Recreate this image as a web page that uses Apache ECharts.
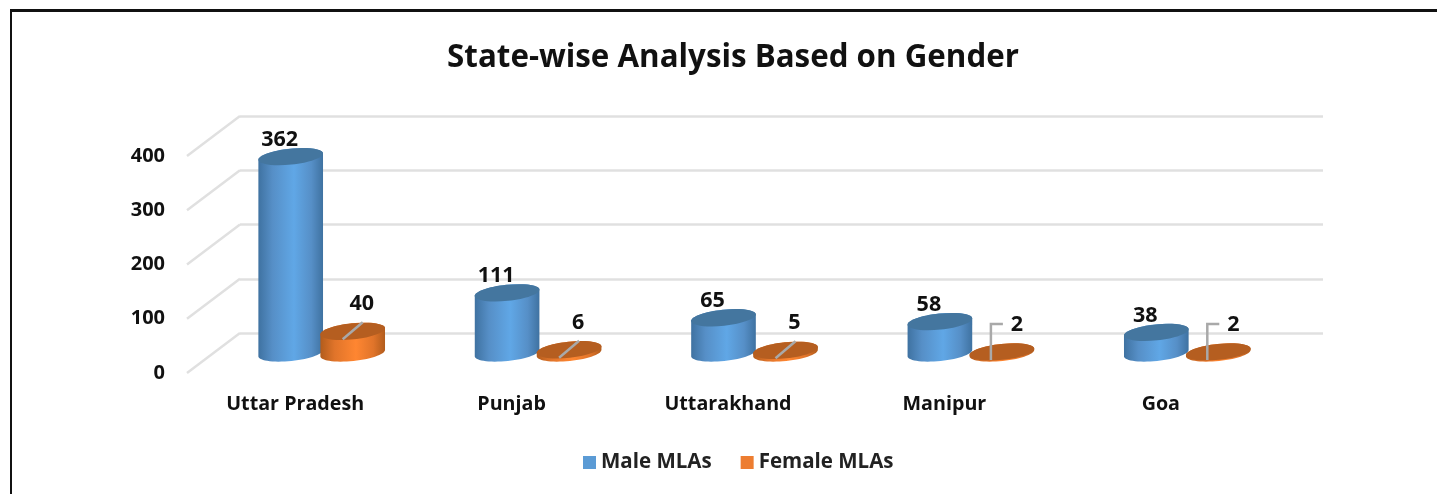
<!DOCTYPE html>
<html>
<head>
<meta charset="utf-8">
<title>State-wise Analysis Based on Gender</title>
<script src="https://cdn.jsdelivr.net/npm/echarts@6/dist/echarts.min.js"></script>
<style>
  html, body { margin: 0; padding: 0; background: #fff; overflow: hidden; }
  #chart { width: 1437px; height: 494px; }
  #frame { position: absolute; left: 10px; top: 9px; width: 1427px; height: 485px; box-sizing: border-box;
           border-top: 3px solid #111; border-left: 2px solid #111; pointer-events: none; }
</style>
</head>
<body>
<div id="chart"></div>
<div id="frame"></div>
<script>
var states = ['Uttar Pradesh', 'Punjab', 'Uttarakhand', 'Manipur', 'Goa'];
var maleMLAs = [362, 111, 65, 58, 38];
var femaleMLAs = [40, 6, 5, 2, 2];
var axisTicks = [0, 100, 200, 300, 400];

var font = '"Open Sans", "Noto Sans", sans-serif';
var depthX = 53, depthY = -40;   // front plane -> back wall
var barRx = 32.5, barRy = 8, tilt = -6 * Math.PI / 180;

function ellipsePoint(cx, cy, t) {
  var x = barRx * Math.cos(t), y = barRy * Math.sin(t);
  return [cx + x * Math.cos(tilt) - y * Math.sin(tilt), cy + x * Math.sin(tilt) + y * Math.cos(tilt)];
}

function cylinder(params, api, shift, colors, isFemale) {
  var i = api.value(0), val = api.value(1);
  var base = api.coord([i, 0]), top = api.coord([i, val]);
  var cx = base[0] + depthX / 2 + shift;
  var by = base[1] + depthY / 2, ty = top[1] + depthY / 2;

  // side of the cylinder: lower half of the base, upper side closed by the top ellipse
  var pts = [], t;
  for (t = 0; t <= 180; t += 6) pts.push(ellipsePoint(cx, by, t * Math.PI / 180));
  for (t = 180; t <= 360; t += 6) pts.push(ellipsePoint(cx, ty, t * Math.PI / 180));

  var children = [{
    type: 'polygon',
    shape: { points: pts },
    style: {
      fill: new echarts.graphic.LinearGradient(0, 0, 1, 0, [
        { offset: 0, color: colors[0] },
        { offset: 0.22, color: colors[3] },
        { offset: 0.55, color: colors[1] },
        { offset: 0.82, color: colors[3] },
        { offset: 1, color: colors[0] }
      ])
    }
  }, {
    type: 'ellipse',
    shape: { cx: 0, cy: 0, rx: barRx, ry: barRy },
    x: cx, y: ty, rotation: -tilt,
    style: { fill: colors[2] }
  }];

  if (!isFemale) {
    children.push(labelText(cx - 11, ty - 17, val));
    return { type: 'group', children: children };
  }

  // female labels sit off the bar with a grey leader line
  var line;
  if (val > 2) {
    line = [[cx - 10, ty + 8], [cx + 10, ty - 9]];
    children.push(labelText(cx + 9, ty - 27, val));
  } else {
    line = [[cx - 11, ty + 8], [cx - 11, ty - 28], [cx + 1, ty - 28]];
    children.push(labelText(cx + 15, ty - 27, val));
  }
  children.push({
    type: 'polyline',
    shape: { points: line },
    style: { fill: null, stroke: '#a9a9a9', lineWidth: 2.5 }
  });
  return { type: 'group', children: children };
}

function labelText(x, y, val) {
  return {
    type: 'text', x: x, y: y,
    style: { text: String(val), fill: '#111', font: 'bold 21.5px ' + font, align: 'center', verticalAlign: 'middle' }
  };
}

function wrap(values) {
  return values.map(function (v, i) { return [i, v]; });
}

var chart = echarts.init(document.getElementById('chart'));

chart.setOption({
  animation: false,
  title: {
    text: 'State-wise Analysis Based on Gender',
    left: 728, top: 38, textAlign: 'center',
    textStyle: { fontFamily: font, fontSize: 31.3, fontWeight: 'bold', color: '#111' }
  },
  legend: {
    data: ['Male MLAs', 'Female MLAs'],
    left: 578, top: 447,
    itemWidth: 13, itemHeight: 13, itemGap: 29, icon: 'rect',
    textStyle: { fontFamily: font, fontSize: 20.5, fontWeight: 'bold', color: '#222' }
  },
  grid: [
    { left: 187, top: 156, width: 1082, height: 217 },
    { left: 240, top: 116, width: 1083, height: 217 }
  ],
  xAxis: [{
    type: 'category', gridIndex: 0, data: states,
    axisLine: { show: false }, axisTick: { show: false },
    axisLabel: { margin: 21, interval: 0, fontFamily: font, fontSize: 19.7, fontWeight: 'bold', color: '#111' }
  }, {
    type: 'category', gridIndex: 1, data: states, show: false
  }],
  yAxis: [{
    type: 'value', gridIndex: 0, min: 0, max: 400, interval: 100,
    axisLine: { show: false }, axisTick: { show: false }, splitLine: { show: false },
    axisLabel: { margin: 22, padding: [2, 0, 0, 0], fontFamily: font, fontSize: 20, fontWeight: 'bold', color: '#111' }
  }, {
    type: 'value', gridIndex: 1, min: 0, max: 400, interval: 100,
    axisLine: { show: false }, axisTick: { show: false }, axisLabel: { show: false },
    splitLine: { lineStyle: { color: '#e0e0e0', width: 2.5 } }
  }],
  series: [{
    // side-wall diagonals from the front plane to the back wall
    name: 'depth', type: 'custom', xAxisIndex: 0, yAxisIndex: 0, silent: true, z: 1,
    data: axisTicks.map(function (v) { return [0, v]; }),
    renderItem: function (params, api) {
      var p = api.coord([0, api.value(1)]);
      var x0 = params.coordSys.x;
      return {
        type: 'line',
        shape: { x1: x0, y1: p[1], x2: x0 + depthX, y2: p[1] + depthY },
        style: { stroke: '#e0e0e0', lineWidth: 2.5 }
      };
    }
  }, {
    name: 'Male MLAs', type: 'custom', xAxisIndex: 0, yAxisIndex: 0, z: 3,
    itemStyle: { color: '#5b9bd5' },
    data: wrap(maleMLAs),
    renderItem: function (params, api) {
      return cylinder(params, api, -31, ['#3f72a1', '#60a7e6', '#44769f', '#568fc7'], false);
    }
  }, {
    name: 'Female MLAs', type: 'custom', xAxisIndex: 0, yAxisIndex: 0, z: 4,
    itemStyle: { color: '#ed7d31' },
    data: wrap(femaleMLAs),
    renderItem: function (params, api) {
      return cylinder(params, api, 31, ['#b25c1c', '#ff8631', '#b55e20', '#e0742a'], true);
    }
  }]
});
</script>
</body>
</html>
